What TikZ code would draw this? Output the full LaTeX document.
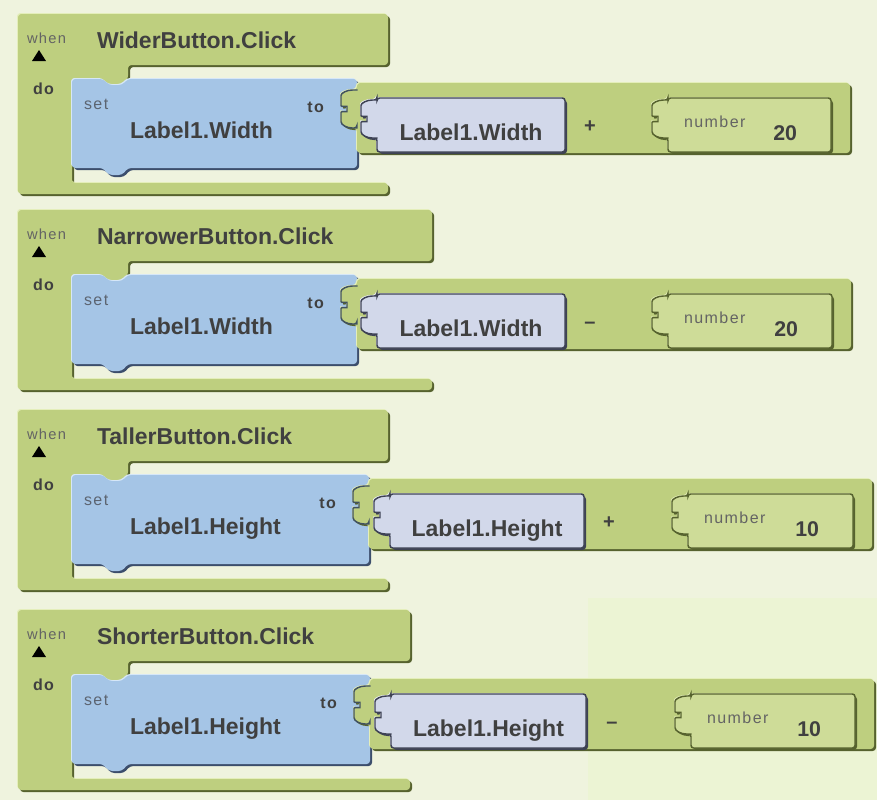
\documentclass[tikz,border=0pt]{standalone}
\usepackage{fontspec}
\setmainfont{Liberation Sans}
\newfontfamily\tagfont[LetterSpace=9]{Liberation Sans}
\usetikzlibrary{calc}

\definecolor{canvas}{RGB}{239,243,222}
\definecolor{canvasb}{RGB}{236,244,212}
\definecolor{ctrl}{RGB}{190,207,127}
\definecolor{ctrlhi}{RGB}{228,238,186}
\definecolor{ctrllo}{RGB}{86,98,46}
\definecolor{numfill}{RGB}{206,220,152}
\definecolor{setfill}{RGB}{165,197,230}
\definecolor{sethi}{RGB}{214,231,248}
\definecolor{setlo}{RGB}{60,78,108}
\definecolor{getfill}{RGB}{210,216,234}
\definecolor{gethi}{RGB}{240,243,251}
\definecolor{getlo}{RGB}{62,66,84}
\definecolor{ink}{RGB}{64,64,64}
\definecolor{faint}{RGB}{100,100,100}
\definecolor{setink}{RGB}{92,100,112}

\tikzset{
  lbl/.style={inner sep=0pt, outer sep=0pt},
  whenlbl/.style={lbl, anchor=base west, text=faint, font=\tagfont\fontsize{11}{13}\selectfont},
  titlelbl/.style={lbl, anchor=base west, text=ink, font=\bfseries\fontsize{17.25}{20}\selectfont},
  dolbl/.style={lbl, anchor=base west, text=ink, font=\tagfont\bfseries\fontsize{12}{14}\selectfont},
  setlbl/.style={lbl, anchor=base west, text=setink, font=\tagfont\fontsize{12}{14}\selectfont},
  propbig/.style={lbl, anchor=base west, text=ink, font=\bfseries\fontsize{17.25}{20}\selectfont},
  tolbl/.style={lbl, anchor=base east, text=ink, font=\tagfont\bfseries\fontsize{12}{14}\selectfont},
  oplbl/.style={lbl, anchor=base, text=ink, font=\bfseries\fontsize{15}{17}\selectfont},
  numtag/.style={lbl, anchor=base west, text=faint, font=\tagfont\fontsize{12}{14}\selectfont},
  numval/.style={lbl, anchor=base east, text=ink, font=\bfseries\fontsize{16}{18}\selectfont},
  rim/.style={line width=1.1pt, rounded corners=2pt},
}

% a raised block: dark copy below right, light copy above left, face on top
\newcommand\bevel[4]{%
  \fill[#3, rounded corners=2.5pt, shift={(2,2)}] #4;
  \fill[#2, rounded corners=2.5pt, shift={(-1,-1)}] #4;
  \fill[#1, rounded corners=2.5pt] #4;
}
% a block seated in a socket: raised, then outlined all round
\newcommand\seated[4]{%
  \bevel{#1}{#2}{#3}{#4}
  \draw[#3, rim] #4;
}

% puzzle tab on the left edge at x=#1, tab region starting at y=#2 (drawn upwards)
\newcommand\plug[2]{-- (#1,#2+40) -- (#1-2,#2+40)
  .. controls (#1-10,#2+40) and (#1-16,#2+37) .. (#1-16,#2+31)
  -- (#1-16,#2+27)
  .. controls (#1-16,#2+23) and (#1-10,#2+24) .. (#1-10,#2+21)
  .. controls (#1-10,#2+18) and (#1-16,#2+19) .. (#1-16,#2+15)
  -- (#1-16,#2+10)
  .. controls (#1-16,#2+5) and (#1-10,#2+2) .. (#1-2,#2+2)
  -- (#1,#2+2)}

% event handler: #1 id, #2 top, #3 right edge of header and foot, #4 title
\newcommand\eventblock[4]{%
  \bevel{ctrl}{ctrlhi}{ctrllo}{(18,#2) -- (#3,#2) -- (#3,#2+51) -- (128,#2+51)
    -- (128,#2+65) -- (122,#2+71) -- (109,#2+71) -- (103,#2+65) -- (72,#2+65)
    -- (72,#2+169) -- (#3,#2+169) -- (#3,#2+180) -- (18,#2+180) -- cycle}
  \fill[black] (32,#2+47) -- (46,#2+47) -- (39,#2+36) -- cycle;
  \node[whenlbl] (when#1) at (27,#2+29) {when};
  \node[titlelbl] (title#1) at (97,#2+34) {#4};
  \node[dolbl] (do#1) at (33,#2+80) {do};
}

% setter: #1 id, #2 top of handler, #3 right edge, #4 property
\newcommand\setblock[4]{%
  \bevel{setfill}{sethi}{setlo}{(72,#2+65) -- (103,#2+65) -- (109,#2+71)
    -- (122,#2+71) -- (128,#2+65) -- (#3,#2+65) -- (#3,#2+154) -- (128,#2+154)
    -- (122,#2+161) -- (109,#2+161) -- (103,#2+154) -- (72,#2+154) -- cycle}
  \node[setlbl] (set#1) at (84,#2+95) {set};
  \node[propbig] (lhs#1) at (130,#2+124) {#4};
  \node[tolbl] (to#1) at (#3-33,#2+98) {to};
}

% arithmetic block with its number operand:
% #1 id, #2 top of handler, #3 left, #4 right, #5 operator x, #6 operator,
% #7 left of number block, #8 number
\newcommand\valueblock[8]{%
  \bevel{ctrl}{ctrlhi}{ctrllo}{(#3,#2+69) -- (#4,#2+69) -- (#4,#2+139) -- (#3,#2+139)
    \plug{#3}{#2+74} -- cycle}
  \draw[setlo!80!ctrllo, rim] (#3,#2+114) \plug{#3}{#2+74};
  \node[oplbl] (op#1) at (#5,#2+118) {#6};
  \seated{numfill}{ctrlhi}{ctrllo}{(#7,#2+84) -- (#4-19,#2+84) -- (#4-19,#2+138)
    -- (#7,#2+138) \plug{#7}{#2+84} -- cycle}
  \node[numtag] (numtag#1) at (#7+16,#2+113) {number};
  \node[numval] (num#1) at (#4-53,#2+126) {#8};
}

% getter: #1 id, #2 top of handler, #3 left, #4 right, #5 property
\newcommand\getblock[5]{%
  \seated{getfill}{gethi}{getlo}{(#3,#2+84) -- (#4,#2+84) -- (#4,#2+138) -- (#3,#2+138)
    \plug{#3}{#2+84} -- cycle}
  \node[propbig, anchor=base] (rhs#1) at ({(#3+#4)/2},#2+126) {#5};
}

\begin{document}
\begin{tikzpicture}[x=0.75pt, y=-0.75pt]
  \useasboundingbox (0,0) rectangle (877,800);
  \fill[canvas] (0,0) rectangle (877,800);
  \fill[canvasb] (588,598) rectangle (877,800);

  % WiderButton
  \eventblock{1}{14}{388}{WiderButton.Click}
  \setblock{1}{14}{357}{Label1.Width}
  \valueblock{1}{14}{357}{850}{590}{+}{668}{20}
  \getblock{1}{14}{377}{565}{Label1.Width}

  % NarrowerButton
  \eventblock{2}{210}{432}{NarrowerButton.Click}
  \setblock{2}{210}{357}{Label1.Width}
  \valueblock{2}{210}{357}{851}{590}{–}{668}{20}
  \getblock{2}{210}{377}{565}{Label1.Width}

  % TallerButton
  \eventblock{3}{410}{388}{TallerButton.Click}
  \setblock{3}{410}{369}{Label1.Height}
  \valueblock{3}{410}{369}{872}{609}{+}{688}{10}
  \getblock{3}{410}{390}{584}{Label1.Height}

  % ShorterButton
  \eventblock{4}{610}{410}{ShorterButton.Click}
  \setblock{4}{610}{370}{Label1.Height}
  \valueblock{4}{610}{370}{874}{612}{–}{691}{10}
  \getblock{4}{610}{391}{586}{Label1.Height}
\end{tikzpicture}
\end{document}
